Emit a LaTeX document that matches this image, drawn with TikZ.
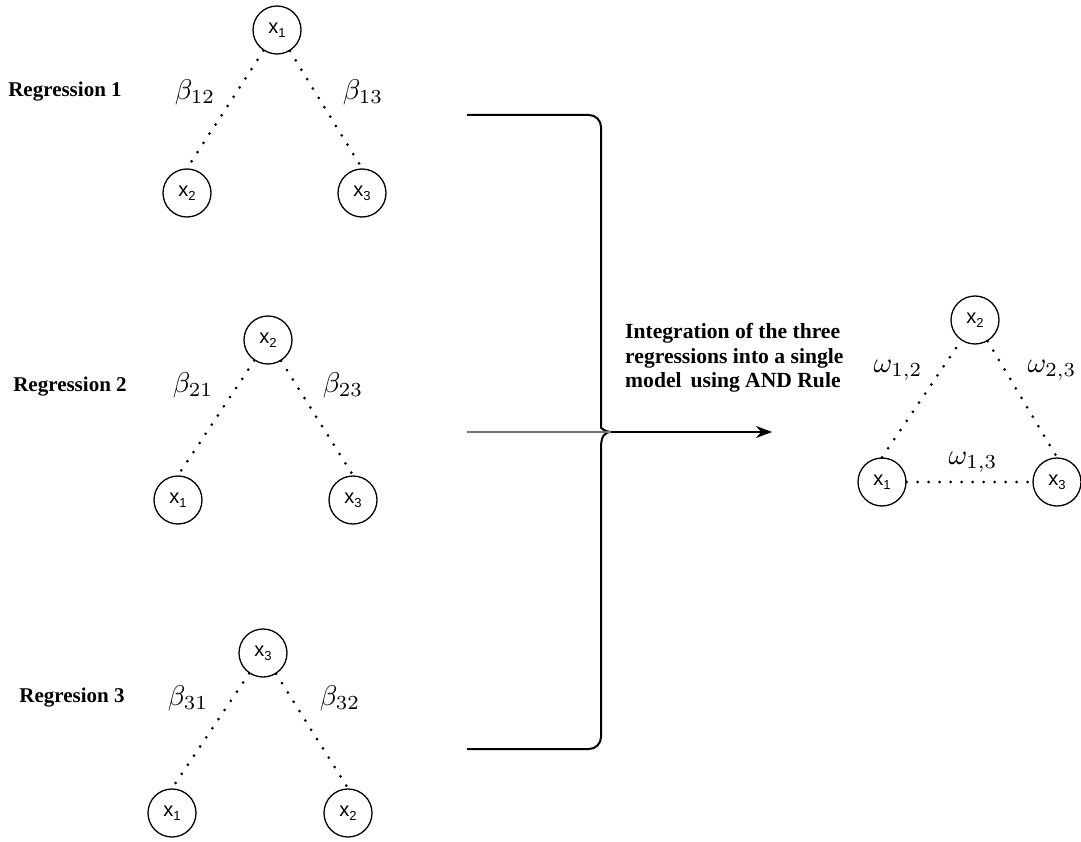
\documentclass[tikz,border=0pt]{standalone}
\usepackage{fontspec}
\setmainfont{Liberation Serif}
\newfontfamily\labfont{Liberation Sans}
\usetikzlibrary{arrows.meta}
\newcommand\xsub[1]{x\raisebox{-4pt}{\fontsize{13}{13}\selectfont #1}}
\begin{document}
\begin{tikzpicture}[x=1pt,y=-1pt,
  var/.style={circle,draw,line width=1.3pt,minimum size=48pt,inner sep=0pt,font=\labfont\fontsize{20}{20}\selectfont},
  edge/.style={line width=3pt,line cap=round,dash pattern=on 0pt off 11pt},
  reglab/.style={font=\bfseries\fontsize{21}{24}\selectfont},
  coef/.style={scale=2.85},
  brace/.style={line width=2pt,line join=round},
  intlab/.style={font=\bfseries\fontsize{21.6}{24.5}\selectfont,align=left,inner sep=0pt}
]
\useasboundingbox (0,0) rectangle (1081,842);

% Regression 1
\node[reglab] (r1) at (65,92) {Regression 1};
\node[var] (a1) at (277,30) {\xsub{1}};
\node[var] (a2) at (187,193) {\xsub{2}};
\node[var] (a3) at (362,193) {\xsub{3}};
\draw[edge] (a1) -- (a2.north);
\draw[edge] (a1) -- (a3.north);
\node[coef] (b12) at (195,92) {$\beta_{12}$};
\node[coef] (b13) at (363,92) {$\beta_{13}$};

% Regression 2
\node[reglab] (r2) at (70,387) {Regression 2};
\node[var] (b2) at (268,340) {\xsub{2}};
\node[var] (b1) at (178,500) {\xsub{1}};
\node[var] (b3) at (353,500) {\xsub{3}};
\draw[edge] (b2) -- (b1.north);
\draw[edge] (b2) -- (b3.north);
\node[coef] (b21) at (193,385) {$\beta_{21}$};
\node[coef] (b23) at (343,385) {$\beta_{23}$};

% Regression 3
\node[reglab] (r3) at (72,698) {Regresion 3};
\node[var] (c3) at (263,653) {\xsub{3}};
\node[var] (c1) at (172,813) {\xsub{1}};
\node[var] (c2) at (348,813) {\xsub{2}};
\draw[edge] (c3) -- (c1.north);
\draw[edge] (c3) -- (c2.north);
\node[coef] (b31) at (188,698) {$\beta_{31}$};
\node[coef] (b32) at (340,698) {$\beta_{32}$};

% brace and arrow
\coordinate (top) at (467,115);
\coordinate (mid) at (467,432);
\coordinate (bot) at (467,749);
\coordinate (tip) at (611,432);
\coordinate (aend) at (772,432);
\draw[brace,rounded corners=12pt] (top) -- (601,115) -- (601,416)
   [sharp corners] .. controls (601,427) and (604,432) .. (tip)
   .. controls (604,432) and (601,437) .. (601,448)
   [rounded corners=12pt] -- (601,749) -- (bot);
\draw[line width=1.6pt,draw=black!55] (mid) -- (tip);
\draw[line width=1.8pt,-{Stealth[length=16pt,width=12pt]}] (tip) -- (aend);

\node[intlab,anchor=west] (int) at (625,358) {Integration of the three\\regressions into a single\\model\, using AND Rule};

% Combined model
\node[var] (t2) at (975,320) {\xsub{2}};
\node[var] (t1) at (882,482) {\xsub{1}};
\node[var] (t3) at (1057,482) {\xsub{3}};
\draw[edge] (t1.north) -- (t2);
\draw[edge] (t2) -- (t3.north);
\draw[edge] (t1.east) -- (t3.west);
\node[coef] (w12) at (898,370) {$\omega_{1,2}$};
\node[coef] (w23) at (1052,370) {$\omega_{2,3}$};
\node[coef] (w13) at (973,462) {$\omega_{1,3}$};
\end{tikzpicture}
\end{document}
